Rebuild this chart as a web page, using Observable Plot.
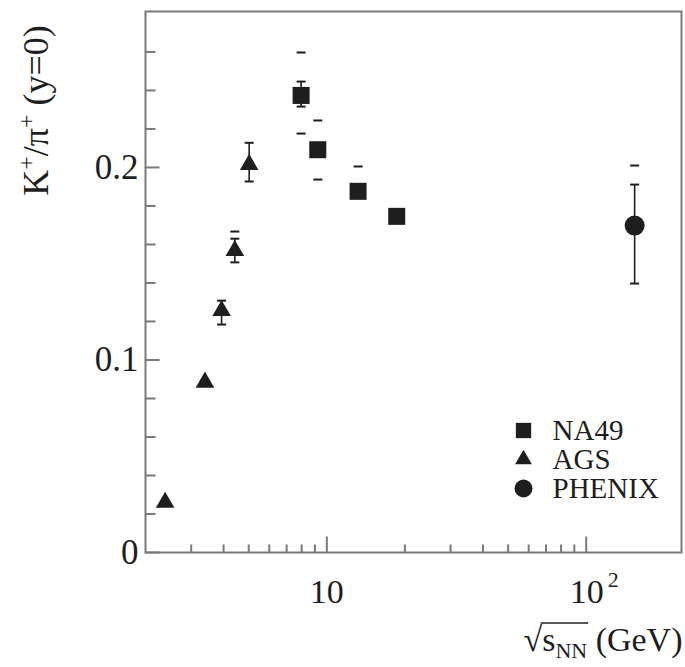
<!DOCTYPE html>
<html><head><meta charset="utf-8">
<script src="https://cdn.jsdelivr.net/npm/d3@7"></script>
<script src="https://cdn.jsdelivr.net/npm/@observablehq/plot@0.6"></script>
<style>
body{margin:0;background:#fff}
#chart svg{display:block}
</style>
</head><body><div id="chart"></div>
<script>
// ---- data ----
const seriesNames = ["NA49", "AGS", "PHENIX"];
const seriesSymbols = ["square", "triangle", "circle"];

const na49Energy   = [7.96, 9.23, 13.2, 18.6];
const na49Ratio    = [0.2374, 0.2092, 0.1876, 0.1746];
const na49StatLow  = [0.2316, null, null, null];
const na49StatHigh = [0.2446, null, null, null];
const na49SysLow   = [0.2176, 0.1937, null, null];
const na49SysHigh  = [0.2597, 0.2244, 0.2005, null];

const agsEnergy   = [2.38, 3.39, 3.93, 4.42, 5.02];
const agsRatio    = [0.026, 0.0884, 0.1256, 0.1568, 0.2015];
const agsStatLow  = [null, null, 0.1184, 0.1507, 0.1927];
const agsStatHigh = [null, null, 0.1308, 0.1630, 0.2128];
const agsSysLow   = [null, null, null, null, null];
const agsSysHigh  = [null, null, null, 0.1667, null];

const phenixEnergy   = [153.7];
const phenixRatio    = [0.1698];
const phenixStatLow  = [0.1397];
const phenixStatHigh = [0.1911];
const phenixSysLow   = [null];
const phenixSysHigh  = [0.2010];

const yTicks = [0, 0.1, 0.2];
const yTickLabels = ["0", "0.1", "0.2"];
const yMinorTicks = [0.02, 0.04, 0.06, 0.08, 0.12, 0.14, 0.16, 0.18, 0.22, 0.24, 0.26];
const xTicks = [10, 100];
const xTickLabels = ["10", "10²"];
const xMinorTicks = [3, 4, 5, 6, 7, 8, 9, 20, 30, 40, 50, 60, 70, 80, 90];
const yLabel = "K+/π+ (y=0)";
const xLabel = "√sNN (GeV)";

// ---- build tables ----
function rows(name, e, r, sl, sh, yl, yh) {
  return e.map((d, i) => ({series: name, energy: d, ratio: r[i], statLow: sl[i], statHigh: sh[i], sysLow: yl[i], sysHigh: yh[i]}));
}
const data = [
  ...rows("NA49", na49Energy, na49Ratio, na49StatLow, na49StatHigh, na49SysLow, na49SysHigh),
  ...rows("AGS", agsEnergy, agsRatio, agsStatLow, agsStatHigh, agsSysLow, agsSysHigh),
  ...rows("PHENIX", phenixEnergy, phenixRatio, phenixStatLow, phenixStatHigh, phenixSysLow, phenixSysHigh)
];
const statRows = data.filter(d => d.statLow != null);
const capPoints = [
  ...statRows.map(d => ({energy: d.energy, v: d.statLow})),
  ...statRows.map(d => ({energy: d.energy, v: d.statHigh})),
  ...data.filter(d => d.sysLow != null).map(d => ({energy: d.energy, v: d.sysLow})),
  ...data.filter(d => d.sysHigh != null).map(d => ({energy: d.energy, v: d.sysHigh}))
];

// custom symbols
const hTick = len => ({draw(ctx) { ctx.moveTo(0, 0); ctx.lineTo(len, 0); }});
const vTick = len => ({draw(ctx) { ctx.moveTo(0, 0); ctx.lineTo(0, -len); }});
const cap = w => ({draw(ctx) { ctx.moveTo(-w / 2, 0); ctx.lineTo(w / 2, 0); }});

const sizeOf = {square: 9.6, triangle: 6.9, circle: 10};
const ink = "#1e1e1e";
const axisGray = "#7a7a7a";

const pointMarks = seriesNames.map((name, i) =>
  Plot.dot(data.filter(d => d.series === name), {x: "energy", y: "ratio", symbol: seriesSymbols[i],
    r: sizeOf[seriesSymbols[i]], fill: ink})
);

const legendMarks = seriesNames.flatMap((name, i) => [
  Plot.dot([name], {frameAnchor: "top-left", dx: 378, dy: 419 + i * 29, symbol: seriesSymbols[i],
    r: sizeOf[seriesSymbols[i]] * 0.9, fill: ink}),
  Plot.text([name], {frameAnchor: "top-left", dx: 407, dy: 419 + i * 29, text: d => d,
    textAnchor: "start", lineAnchor: "middle", fontSize: 29, fill: ink})
]);

const chart = Plot.plot({
  width: 685,
  height: 667,
  marginLeft: 145,
  marginRight: 4,
  marginTop: 11,
  marginBottom: 115,
  style: {fontFamily: "'Liberation Serif', 'Times New Roman', serif", background: "#fff", color: ink},
  x: {type: "log", domain: [2, 233]},
  y: {domain: [0, 0.281]},
  marks: [
    Plot.frame({stroke: axisGray, strokeWidth: 2}),
    // tick marks (inward)
    Plot.dot(yMinorTicks, {y: d => d, frameAnchor: "left", symbol: hTick(10), r: 3, stroke: axisGray, strokeWidth: 2, fill: "none"}),
    Plot.dot(yTicks, {y: d => d, frameAnchor: "left", symbol: hTick(14), r: 3, stroke: axisGray, strokeWidth: 2, fill: "none"}),
    Plot.dot(xMinorTicks, {x: d => d, frameAnchor: "bottom", symbol: vTick(8), r: 3, stroke: axisGray, strokeWidth: 2, fill: "none"}),
    Plot.dot(xTicks, {x: d => d, frameAnchor: "bottom", symbol: vTick(16), r: 3, stroke: axisGray, strokeWidth: 2, fill: "none"}),
    Plot.axisY({ticks: yTicks, tickSize: 0, tickPadding: 7, tickFormat: d => yTickLabels[yTicks.indexOf(d)], fontSize: 35, label: null, fill: ink}),
    Plot.axisX({ticks: xTicks, tickSize: 0, tickPadding: 26, tickFormat: d => xTickLabels[xTicks.indexOf(d)], fontSize: 34, label: null, fill: ink}),
    // error bars
    Plot.ruleX(statRows, {x: "energy", y1: "statLow", y2: "statHigh", stroke: ink, strokeWidth: 1.6}),
    Plot.dot(capPoints, {x: "energy", y: "v", symbol: cap(9), r: 3, stroke: ink, strokeWidth: 2, fill: "none"}),
    // data points
    ...pointMarks,
    ...legendMarks,
    // axis titles
    Plot.text([yLabel], {frameAnchor: "top-left", dx: -109, dy: 99, rotate: -90, text: d => d,
      textAnchor: "middle", lineAnchor: "middle", fontSize: 36, fill: ink}),
    Plot.text([xLabel], {frameAnchor: "bottom-right", dx: 1, dy: 88, text: d => d,
      textAnchor: "end", lineAnchor: "middle", fontSize: 34, fill: ink})
  ]
});
document.getElementById("chart").appendChild(chart);

// ---- typographic touch-ups (superscripts / subscripts / radical bar) ----
const NS = "http://www.w3.org/2000/svg";
function ts(parent, txt, attrs = {}) {
  const t = document.createElementNS(NS, "tspan");
  for (const k in attrs) t.setAttribute(k, attrs[k]);
  t.textContent = txt;
  parent.appendChild(t);
  return t;
}
const allTexts = Array.from(chart.querySelectorAll("text"));
const yl = allTexts.find(t => t.textContent === yLabel);
if (yl) {
  yl.textContent = "";
  ts(yl, "K");
  ts(yl, "+", {dy: -14, "font-size": 24});
  ts(yl, "/π", {dy: 14});
  ts(yl, "+", {dy: -14, "font-size": 24});
  ts(yl, " (y=0)", {dy: 14});
}
allTexts.forEach(t => {
  if (t.textContent === "10²") {
    t.textContent = "";
    ts(t, "10");
    ts(t, "2", {dx: 4, dy: -16, "font-size": 22});
    t.setAttribute("dx", 8);
  }
});
const xl = allTexts.find(t => t.textContent === xLabel);
if (xl) {
  xl.textContent = "";
  ts(xl, "√");
  ts(xl, "s");
  ts(xl, "NN", {dy: 7, "font-size": 22});
  ts(xl, " (GeV)", {dy: -7});
  try {
    const r0 = xl.getExtentOfChar(0);
    const end = xl.getEndPositionOfChar(3);
    const line = document.createElementNS(NS, "line");
    line.setAttribute("x1", r0.x + r0.width - 1.5);
    line.setAttribute("x2", end.x + 1);
    line.setAttribute("y1", r0.y + 1.5);
    line.setAttribute("y2", r0.y + 1.5);
    line.setAttribute("stroke", ink);
    line.setAttribute("stroke-width", 1.5);
    if (xl.getAttribute("transform")) line.setAttribute("transform", xl.getAttribute("transform"));
    xl.parentNode.appendChild(line);
  } catch (e) {}
}
</script>
</body></html>
